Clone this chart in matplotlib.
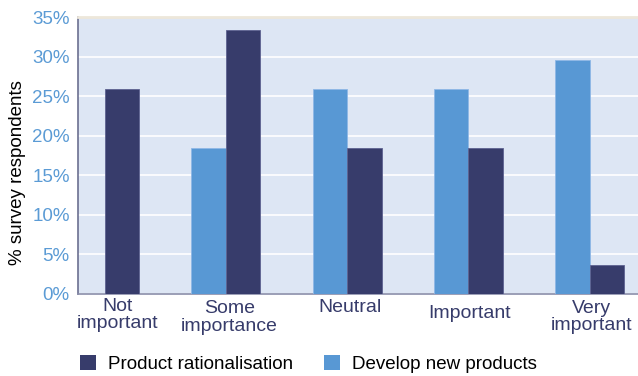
import matplotlib.pyplot as plt
from matplotlib.patches import Patch
import numpy as np

plt.rcParams['font.family'] = ['Liberation Sans', 'DejaVu Sans']

categories = ['Not\nimportant', 'Some\nimportance', 'Neutral', 'Important', 'Very\nimportant']
develop_new = [0, 18.5, 25.9, 25.9, 29.6]
rationalisation = [25.9, 33.3, 18.5, 18.5, 3.7]
yticks = [0, 5, 10, 15, 20, 25, 30, 35]

dark = '#373c6b'
light = '#5898d4'

fig = plt.figure(figsize=(6.38, 3.76), dpi=100)
ax = fig.add_axes([78 / 638, 1 - 294 / 376, 560 / 638, 277 / 376])
ax.set_facecolor('#dde6f4')

x = np.arange(len(categories))
w = 0.285
# light bars sit left of each category centre, dark bars right of it
ax.bar(x - w, develop_new, w, align='edge', color=light, edgecolor='#8fb8e6', linewidth=0.6, zorder=3)
ax.bar(x, rationalisation, w, align='edge', color=dark, edgecolor='#5d6290', linewidth=0.6, zorder=3)

ax.set_xlim(-0.22, 4.4)
ax.set_ylim(0, 35)
ax.set_yticks(yticks)
ax.set_yticklabels([f'{v}%' for v in yticks], color='#5b9bd5', fontsize=13.5)
ax.yaxis.grid(True, color='white', linewidth=1.2, zorder=1)
ax.tick_params(axis='both', length=0)
ax.tick_params(axis='y', pad=6)

ax.set_xticks(x)
ax.set_xticklabels([])
label_x = [x[0] + 0.11, x[1] + 0.03, x[2] + 0.02, x[3] + 0.01, x[4] + 0.02]
label_y = [-0.5, -0.8, -0.6, -1.4, -0.7]
for lx, ly, lab in zip(label_x, label_y, categories):
    ax.text(lx, ly, lab, ha='center', va='top', color=dark, fontsize=14,
            linespacing=1.02)

ax.set_ylabel('% survey respondents', fontsize=13.5, color='black')
ax.yaxis.set_label_coords(-0.092, 0.44)

ax.spines['right'].set_visible(False)
ax.spines['top'].set_color('#ede7da')
ax.spines['top'].set_linewidth(2)
ax.spines['left'].set_color('#6b6f90')
ax.spines['bottom'].set_color('#8a8eaa')
ax.spines['left'].set_linewidth(1.2)
ax.spines['bottom'].set_linewidth(1.2)

handles = [Patch(facecolor=dark, label='Product rationalisation'),
           Patch(facecolor=light, label='Develop new products')]
fig.legend(handles=handles, loc='lower left', bbox_to_anchor=(63 / 638, -0.038),
           ncol=2, frameon=False, fontsize=13.5, handlelength=0.85, handleheight=0.85,
           handletextpad=0.65, columnspacing=1.65)

fig.savefig('out.png', dpi=100)
